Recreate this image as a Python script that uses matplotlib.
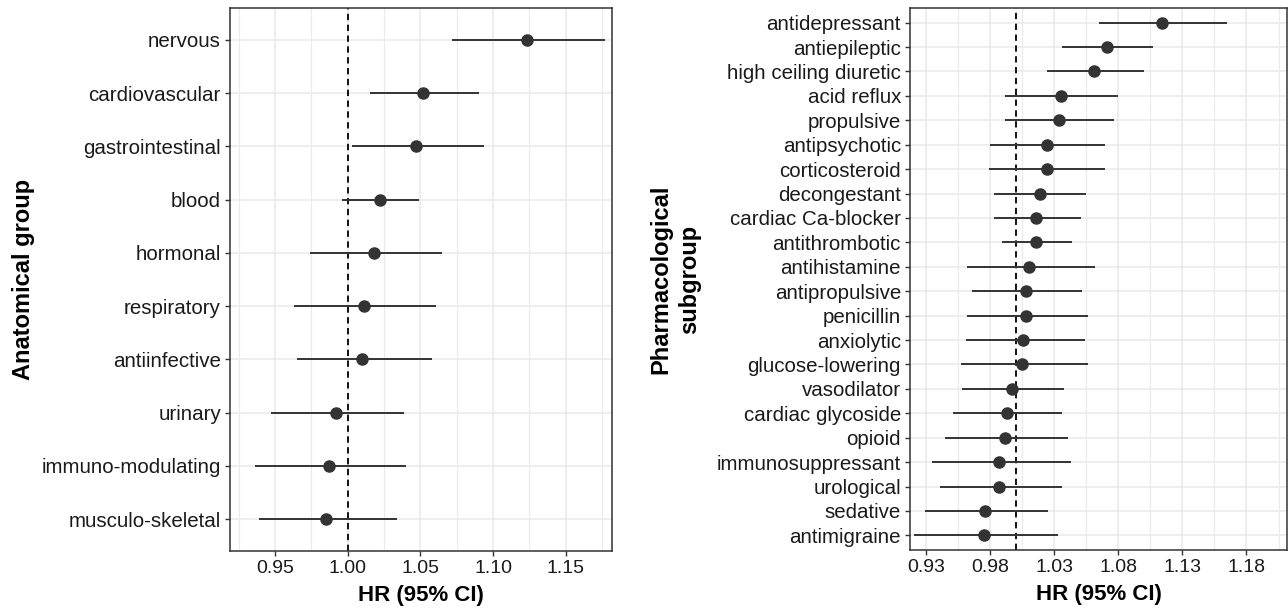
import matplotlib
matplotlib.use("Agg")
import matplotlib.pyplot as plt
from matplotlib.ticker import FixedLocator

plt.rcParams['font.family'] = ['Liberation Sans', 'DejaVu Sans']

# ---- Anatomical group data ----
anat_groups = ["nervous", "cardiovascular", "gastrointestinal", "blood", "hormonal",
               "respiratory", "antiinfective", "urinary", "immuno-modulating", "musculo-skeletal"]
anat_hr = [1.123, 1.052, 1.047, 1.022, 1.018, 1.011, 1.010, 0.992, 0.987, 0.985]
anat_lo = [1.072, 1.015, 1.003, 0.996, 0.974, 0.963, 0.965, 0.947, 0.936, 0.939]
anat_hi = [1.177, 1.090, 1.094, 1.049, 1.065, 1.061, 1.058, 1.039, 1.040, 1.034]
anat_ticks = [0.95, 1.00, 1.05, 1.10, 1.15]
anat_tick_labels = ["0.95", "1.00", "1.05", "1.10", "1.15"]

# ---- Pharmacological subgroup data ----
pharm_groups = ["antidepressant", "antiepileptic", "high ceiling diuretic", "acid reflux",
                "propulsive", "antipsychotic", "corticosteroid", "decongestant",
                "cardiac Ca-blocker", "antithrombotic", "antihistamine", "antipropulsive",
                "penicillin", "anxiolytic", "glucose-lowering", "vasodilator",
                "cardiac glycoside", "opioid", "immunosuppressant", "urological",
                "sedative", "antimigraine"]
pharm_hr = [1.114, 1.071, 1.061, 1.035, 1.034, 1.024, 1.024, 1.019, 1.016, 1.016,
            1.010, 1.008, 1.008, 1.006, 1.005, 0.997, 0.993, 0.992, 0.987, 0.987,
            0.976, 0.975]
pharm_lo = [1.065, 1.036, 1.024, 0.992, 0.992, 0.980, 0.979, 0.983, 0.983, 0.989,
            0.962, 0.966, 0.962, 0.961, 0.957, 0.958, 0.951, 0.945, 0.935, 0.941,
            0.929, 0.921]
pharm_hi = [1.165, 1.107, 1.100, 1.080, 1.077, 1.070, 1.070, 1.055, 1.051, 1.044,
            1.062, 1.052, 1.056, 1.054, 1.056, 1.038, 1.036, 1.041, 1.043, 1.036,
            1.025, 1.033]
pharm_ticks = [0.93, 0.98, 1.03, 1.08, 1.13, 1.18]
pharm_tick_labels = ["0.93", "0.98", "1.03", "1.08", "1.13", "1.18"]

W, H = 1288, 611
fig = plt.figure(figsize=(W / 100, H / 100), dpi=100)
fig.patch.set_facecolor("white")

ax1 = fig.add_axes([230 / W, 1 - 551 / H, (611.7 - 230) / W, (551 - 8) / H])
ax2 = fig.add_axes([910 / W, 1 - 550 / H, (1287 - 910) / W, (550 - 8) / H])

dark = "#333333"
grid_c = "#EBEBEB"


def forest(ax, groups, hr, lo, hi, ticks, labels, xlim, ylabel, ylab_pad):
    n = len(groups)
    ypos = [n - 1 - i for i in range(n)]
    ax.set_xlim(*xlim)
    ax.set_ylim(-0.6, n - 0.4)
    ax.hlines(ypos, lo, hi, color=dark, lw=1.4, zorder=3)
    ax.plot(hr, ypos, 'o', color=dark, ms=8, zorder=4, mec=dark)
    ax.axvline(1.0, color="black", lw=1.3, ls=(0, (3.5, 2.5)), zorder=2)
    ax.set_yticks(ypos)
    ax.set_yticklabels(groups, fontsize=14.8, color="#1a1a1a")
    ax.set_xticks(ticks)
    ax.set_xticklabels(labels, fontsize=14, color="#1a1a1a")
    minors = [t + (ticks[1] - ticks[0]) / 2 for t in ticks] + [ticks[0] - (ticks[1] - ticks[0]) / 2]
    ax.xaxis.set_minor_locator(FixedLocator(minors))
    ax.tick_params(axis='x', which='minor', length=0)
    ax.tick_params(axis='both', which='major', length=3.5, width=1.0, color=dark, pad=3)
    ax.grid(True, which='major', axis='both', color=grid_c, lw=1.2, zorder=0)
    ax.grid(True, which='minor', axis='x', color=grid_c, lw=0.8, zorder=0)
    ax.set_axisbelow(True)
    for s in ax.spines.values():
        s.set_color(dark)
        s.set_linewidth(1.1)
    ax.set_xlabel("HR (95% CI)", fontsize=16, fontweight='bold', labelpad=6)
    ax.set_ylabel(ylabel, fontsize=17, fontweight='bold', labelpad=ylab_pad,
                  linespacing=1.35)


forest(ax1, anat_groups, anat_hr, anat_lo, anat_hi, anat_ticks, anat_tick_labels,
       (0.919, 1.1816), "Anatomical group", 5)
forest(ax2, pharm_groups, pharm_hr, pharm_lo, pharm_hi, pharm_ticks, pharm_tick_labels,
       (0.9175, 1.2116), "Pharmacological\nsubgroup", 11)

fig.savefig("out.png", dpi=100, facecolor="white")
